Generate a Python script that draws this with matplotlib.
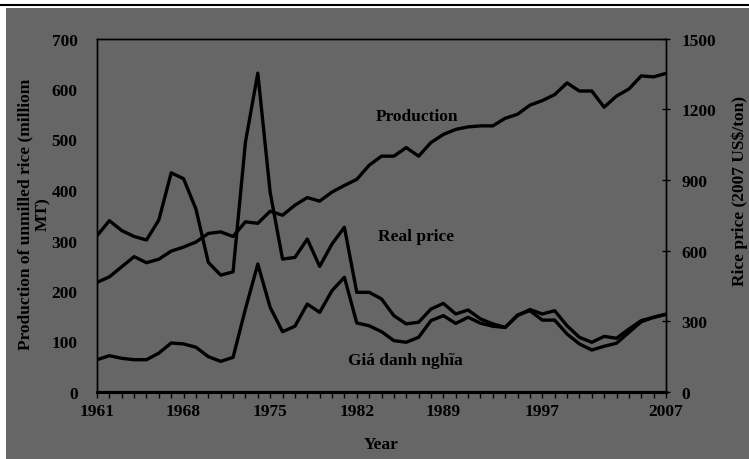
import matplotlib
matplotlib.use("Agg")
import matplotlib.pyplot as plt
from matplotlib.patches import Rectangle
from matplotlib.lines import Line2D

years = list(range(1961, 2008))
# million MT, left axis
production = [217, 228, 248, 268, 256, 263, 279, 287, 297, 314,
              317, 308, 337, 334, 358, 350, 370, 385, 378, 396,
              409, 421, 449, 467, 467, 484, 467, 494, 510, 520,
              525, 527, 527, 542, 550, 568, 577, 589, 612, 596,
              596, 564, 586, 600, 626, 624, 631]
# 2007 US$/ton, right axis
real_price = [663, 727, 685, 660, 645, 730, 930, 905, 776, 550,
              496, 510, 1060, 1353, 847, 564, 571, 649, 533, 628,
              699, 423, 423, 395, 324, 289, 296, 352, 376, 331,
              348, 310, 289, 274, 324, 350, 331, 345, 281, 232,
              211, 236, 228, 267, 303, 317, 330]
nominal_price = [137, 154, 143, 137, 137, 165, 208, 204, 190, 150,
                 130, 147, 352, 543, 359, 256, 279, 373, 338, 430,
                 487, 293, 281, 256, 218, 211, 232, 303, 324, 291,
                 317, 292, 279, 274, 327, 345, 305, 305, 246, 204,
                 178, 194, 207, 253, 298, 317, 330]
year_labels = [1961, 1968, 1975, 1982, 1989, 1997, 2007]

plt.rcParams['font.family'] = ['Liberation Serif', 'DejaVu Serif']
plt.rcParams['font.weight'] = 'bold'
plt.rcParams['axes.labelweight'] = 'bold'
bg = '#666666'
fs = 12.5

fig = plt.figure(figsize=(7.49, 4.6), dpi=100, facecolor='white')
fig.patches.append(Rectangle((6 / 749, 0), 1 - 6 / 749, 451 / 460,
                             transform=fig.transFigure, facecolor=bg,
                             edgecolor='none', zorder=-10))
fig.lines.append(Line2D([0, 1], [1 - 6 / 460, 1 - 6 / 460], transform=fig.transFigure,
                        color='black', lw=1.5))

ax = fig.add_axes([97 / 749, 67 / 460, 569 / 749, 353.5 / 460])
ax.set_facecolor(bg)
ax2 = ax.twinx()
ax2.patch.set_visible(False)

ax.plot(years, production, color='black', lw=2.4, solid_joinstyle='round')
ax2.plot(years, real_price, color='black', lw=2.4, solid_joinstyle='round')
ax2.plot(years, nominal_price, color='black', lw=2.4, solid_joinstyle='round')

ax.set_xlim(1961, 2007)
ax.set_ylim(0, 700)
ax2.set_ylim(0, 1500)
ax.set_yticks(range(0, 701, 100))
ax2.set_yticks(range(0, 1501, 300))
ax.set_xticks(year_labels)
ax.set_xticks(years, minor=True)

ax.tick_params(axis='y', length=0, pad=14, labelsize=fs)
ax2.tick_params(axis='y', direction='inout', length=6, width=1, pad=8, labelsize=fs)
ax.tick_params(axis='x', which='both', direction='out', length=4, width=1, pad=4, labelsize=fs)

for a in (ax, ax2):
    for side in ('left', 'right', 'top'):
        a.spines[side].set_linewidth(1)
        a.spines[side].set_color('black')
    a.spines['bottom'].set_linewidth(2.2)

ax.set_xlabel('Year', fontsize=fs, fontweight='bold', labelpad=12)

fig.text(34 / 749, 1 - 214 / 460, 'Production of unmilled rice (milliom\nMT)',
         rotation=90, ha='center', va='center', multialignment='center',
         fontsize=fs, fontweight='bold', linespacing=1.15)
fig.text(740 / 749, 1 - 191 / 460, 'Rice price (2007 US$/ton)',
         rotation=90, ha='center', va='center', fontsize=fs, fontweight='bold')

ax.text(1986.9, 546, 'Production', ha='center', va='center', fontsize=fs, fontweight='bold')
ax2.text(1986.8, 662, 'Real price', ha='center', va='center', fontsize=fs, fontweight='bold')
ax2.text(1985.9, 136, 'Giá danh nghĩa', ha='center', va='center', fontsize=fs, fontweight='bold')

fig.savefig('out.png', dpi=100, facecolor='white')
